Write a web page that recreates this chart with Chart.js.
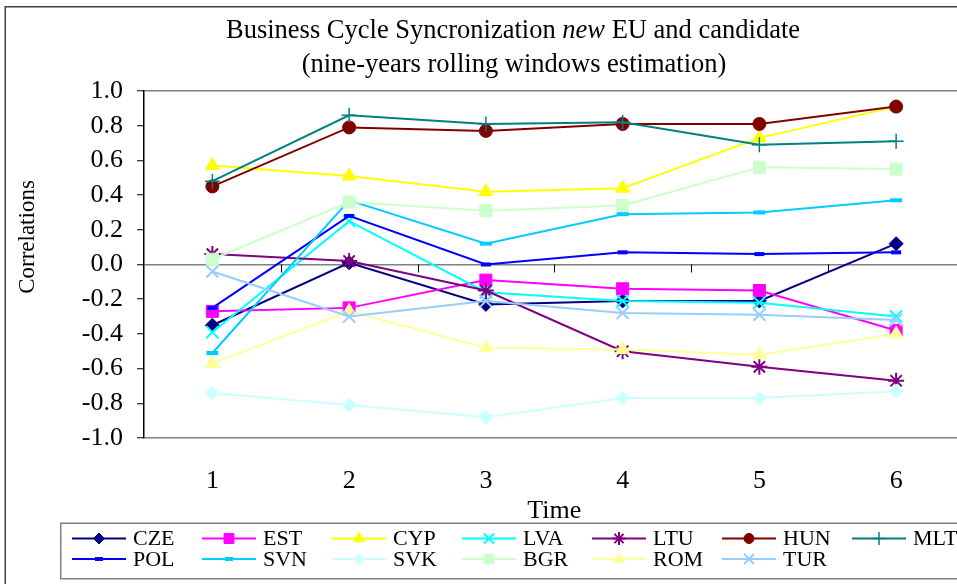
<!DOCTYPE html>
<html><head><meta charset="utf-8">
<script src="https://cdn.jsdelivr.net/npm/chart.js@4/dist/chart.umd.min.js"></script>
<style>html,body{margin:0;padding:0;background:#fff;overflow:hidden;width:957px;height:584px}canvas{display:block}</style>
</head><body>
<canvas id="c" width="975" height="584"></canvas>
<script>
const categories = ['1','2','3','4','5','6'];
const seriesNames = ['CZE','EST','CYP','LVA','LTU','HUN','MLT','POL','SVN','SVK','BGR','ROM','TUR'];
const CZE = [-0.35, 0.01, -0.23, -0.21, -0.21, 0.12];
const EST = [-0.27, -0.25, -0.09, -0.14, -0.15, -0.38];
const CYP = [0.57, 0.51, 0.42, 0.44, 0.73, 0.91];
const LVA = [-0.39, 0.25, -0.16, -0.21, -0.22, -0.30];
const LTU = [0.06, 0.02, -0.15, -0.50, -0.59, -0.67];
const HUN = [0.45, 0.79, 0.77, 0.81, 0.81, 0.91];
const MLT = [0.48, 0.86, 0.81, 0.82, 0.69, 0.71];
const POL = [-0.25, 0.28, 0.00, 0.07, 0.06, 0.07];
const SVN = [-0.51, 0.37, 0.12, 0.29, 0.30, 0.37];
const SVK = [-0.74, -0.81, -0.88, -0.77, -0.77, -0.73];
const BGR = [0.03, 0.36, 0.31, 0.34, 0.56, 0.55];
const ROM = [-0.57, -0.27, -0.48, -0.49, -0.52, -0.40];
const TUR = [-0.04, -0.30, -0.21, -0.28, -0.29, -0.32];
const yTickValues = [-1.0, -0.8, -0.6, -0.4, -0.2, 0.0, 0.2, 0.4, 0.6, 0.8, 1.0];
const titleLine1 = [['Business Cycle Syncronization ', false], ['new', true], [' EU and candidate', false]];
const titleLine2 = '(nine-years rolling windows estimation)';
const xTitle = 'Time';
const yTitle = 'Correlations';

const seriesValues = [CZE, EST, CYP, LVA, LTU, HUN, MLT, POL, SVN, SVK, BGR, ROM, TUR];

// styles (not data)
const styles = [
  {c:'#000080', ps:'rectRot', r:7, bw:1, lr:5.5},
  {c:'#FF00FF', ps:'rect', r:8.5, bw:1, lr:7},
  {c:'#FFFF00', ps:'triangle', r:8, bw:1, lr:6.5},
  {c:'#00FFFF', ps:'crossRot', r:8.5, bw:2, lr:7},
  {c:'#800080', ps:'star', r:8, bw:2, lr:6.5},
  {c:'#800000', ps:'circle', r:6.5, bw:1, lr:5},
  {c:'#008080', ps:'cross', r:7.5, bw:1.5, lr:6.5},
  {c:'#0000FF', ps:'line', r:5, bw:4, lr:4},
  {c:'#00CCFF', ps:'line', r:6, bw:4, lr:4},
  {c:'#CCFFFF', ps:'rectRot', r:7, bw:1, lr:5.5},
  {c:'#CCFFCC', ps:'rect', r:8.5, bw:1, lr:7},
  {c:'#FFFF99', ps:'triangle', r:8, bw:1, lr:6.5},
  {c:'#99CCFF', ps:'crossRot', r:8.5, bw:2, lr:7}
];

const FONT = "'Liberation Serif', 'Times New Roman', serif";
Chart.defaults.font.family = FONT;
Chart.defaults.color = '#000';

const datasets = seriesNames.map((name, i) => ({
  label: name,
  data: seriesValues[i],
  borderColor: styles[i].c,
  backgroundColor: styles[i].c,
  borderWidth: 2,
  pointStyle: styles[i].ps,
  pointRadius: styles[i].r,
  pointHoverRadius: styles[i].r,
  pointBorderWidth: styles[i].bw,
  pointBorderColor: styles[i].c,
  pointBackgroundColor: styles[i].c,
  tension: 0,
  fill: false,
  order: seriesNames.length - i,
  clip: false
}));

const VIEW_W = 957;

const decor = {
  id: 'decor',
  beforeDatasetsDraw(chart) {
    const ctx = chart.ctx;
    const xs = chart.scales.x, ys = chart.scales.y;
    const y0 = ys.getPixelForValue(0);
    ctx.save();
    ctx.strokeStyle = '#000';
    ctx.lineWidth = 1;
    for (let i = 0; i < categories.length - 1; i++) {
      const x = Math.round((xs.getPixelForValue(i) + xs.getPixelForValue(i + 1)) / 2) + 0.5;
      ctx.beginPath();
      ctx.moveTo(x, y0);
      ctx.lineTo(x, y0 + 8);
      ctx.stroke();
    }
    ctx.restore();
  },
  afterDraw(chart) {
    const ctx = chart.ctx;
    const ca = chart.chartArea;
    ctx.save();
    // outer frame
    ctx.strokeStyle = '#404040';
    ctx.lineWidth = 1.5;
    ctx.strokeRect(5.25, 6.75, chart.width + 20, chart.height + 20);
    // title
    ctx.fillStyle = '#000';
    ctx.textBaseline = 'alphabetic';
    const tsize = 26.5;
    let total = 0;
    const widths = titleLine1.map(([t, it]) => {
      ctx.font = (it ? 'italic ' : '') + tsize + 'px ' + FONT;
      const w = ctx.measureText(t).width; total += w; return w;
    });
    let x = 513 - total / 2;
    titleLine1.forEach(([t, it], k) => {
      ctx.font = (it ? 'italic ' : '') + tsize + 'px ' + FONT;
      ctx.textAlign = 'left';
      ctx.fillText(t, x, 38);
      x += widths[k];
    });
    ctx.font = tsize + 'px ' + FONT;
    ctx.textAlign = 'center';
    ctx.fillText(titleLine2, 514, 72);
    // y title
    ctx.save();
    ctx.translate(28, 237);
    ctx.rotate(-Math.PI / 2);
    ctx.font = '23px ' + FONT;
    ctx.textAlign = 'center';
    ctx.textBaseline = 'middle';
    ctx.fillText(yTitle, 0, 0);
    ctx.restore();
    // x title
    ctx.font = '26px ' + FONT;
    ctx.textAlign = 'center';
    ctx.textBaseline = 'middle';
    ctx.fillText(xTitle, (ca.left + ca.right) / 2, 511);
    // legend
    ctx.strokeStyle = '#808080';
    ctx.lineWidth = 1.5;
    ctx.strokeRect(60.75, 523.25, chart.width, 55.5);
    ctx.font = '22px ' + FONT;
    ctx.textAlign = 'left';
    ctx.textBaseline = 'middle';
    seriesNames.forEach((name, k) => {
      const row = k < 7 ? 0 : 1, col = k < 7 ? k : k - 7;
      const x0 = 72 + col * 130;
      const yy = 538.5 + row * 20.5;
      const st = styles[k];
      ctx.strokeStyle = st.c;
      ctx.fillStyle = st.c;
      ctx.lineWidth = 2;
      ctx.beginPath();
      ctx.moveTo(x0, yy);
      ctx.lineTo(x0 + 54, yy);
      ctx.stroke();
      ctx.lineWidth = st.bw;
      Chart.helpers.drawPoint(ctx, {pointStyle: st.ps, rotation: 0, radius: st.lr, borderWidth: st.bw}, x0 + 27, yy);
      ctx.fillStyle = '#000';
      ctx.fillText(name, x0 + 61, yy + 1);
    });
    ctx.restore();
  }
};

new Chart(document.getElementById('c'), {
  type: 'line',
  data: { labels: categories, datasets },
  options: {
    responsive: false,
    devicePixelRatio: 1,
    animation: false,
    events: [],
    layout: { padding: { left: 0, top: 91, right: 0, bottom: 0 } },
    plugins: { legend: { display: false }, title: { display: false }, tooltip: { enabled: false } },
    scales: {
      x: {
        type: 'category',
        offset: true,
        grid: { display: false },
        border: { display: false },
        ticks: { font: { size: 26 }, color: '#000', padding: 20, maxRotation: 0, autoSkip: false },
        afterFit(s) { s.height = 146; }
      },
      y: {
        min: -1, max: 1,
        afterBuildTicks(s) { s.ticks = yTickValues.map(v => ({ value: v })); },
        ticks: { font: { size: 26 }, color: '#000', padding: 14, callback: v => Number(v).toFixed(1) },
        grid: {
          drawOnChartArea: true,
          color: c => (c.tick && (Math.abs(c.tick.value) < 1e-9 || Math.abs(Math.abs(c.tick.value) - 1) < 1e-9)) ? '#808080' : 'rgba(0,0,0,0)',
          lineWidth: 1.5,
          tickColor: '#000',
          tickLength: 7,
          tickWidth: 1
        },
        border: { display: true, color: '#000', width: 1.5 },
        afterFit(s) { s.width = 144; }
      }
    }
  },
  plugins: [decor]
});
</script>
</body></html>
